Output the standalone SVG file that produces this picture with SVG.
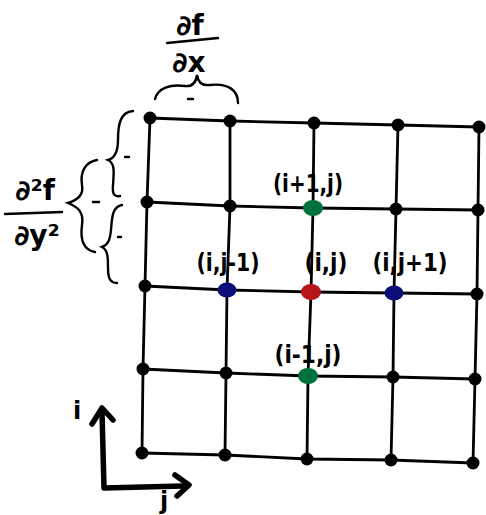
<svg xmlns="http://www.w3.org/2000/svg" width="486" height="515" viewBox="0 0 486 515">
<style>
.g{fill:none;stroke:#000;stroke-width:2.8;stroke-linecap:round;stroke-linejoin:round}
.br{fill:none;stroke:#000;stroke-width:2.4;stroke-linecap:round}
.ax{fill:none;stroke:#000;stroke-width:5.5;stroke-linecap:round;stroke-linejoin:round}
.n{fill:#000}
.t{font-family:"DejaVu Sans",sans-serif;font-weight:bold;font-size:24px;fill:#000}
.m{font-family:"DejaVu Sans",sans-serif;font-weight:bold;font-size:28px;fill:#000}
</style>
<rect width="486" height="515" fill="#fff"/>
<g id="connectors">
<polyline class="g" points="150,118 230,121 314,123 398,125 479,127"/>
<polyline class="g" points="147,202 230,206 313,208 396,209 478,210"/>
<polyline class="g" points="145,286 227,290 311,292 394,293 477,294"/>
<polyline class="g" points="143,369 226,373 308,376 393,377 475,379"/>
<polyline class="g" points="142,453 225,455 307,459 391,460 473,463"/>
<polyline class="g" points="150,118 147,202 145,286 143,369 142,453"/>
<polyline class="g" points="230,121 230,206 227,290 226,373 225,455"/>
<polyline class="g" points="314,123 313,208 311,292 308,376 307,459"/>
<polyline class="g" points="398,125 396,209 394,293 393,377 391,460"/>
<polyline class="g" points="479,127 478,210 477,294 475,379 473,463"/>
</g>
<g id="nodes">
<g id="n00"><circle class="n" cx="150" cy="118" r="6.5"/></g>
<g id="n01"><circle class="n" cx="230" cy="121" r="6.5"/></g>
<g id="n02"><circle class="n" cx="314" cy="123" r="6.5"/></g>
<g id="n03"><circle class="n" cx="398" cy="125" r="6.5"/></g>
<g id="n04"><circle class="n" cx="479" cy="127" r="6.5"/></g>
<g id="n10"><circle class="n" cx="147" cy="202" r="6.5"/></g>
<g id="n11"><circle class="n" cx="230" cy="206" r="6.5"/></g>
<g id="n12"><ellipse cx="313" cy="208" rx="10" ry="8" fill="#00703c"/><text class="t" x="308" y="192" text-anchor="middle" textLength="70" lengthAdjust="spacingAndGlyphs">(i+1,j)</text></g>
<g id="n13"><circle class="n" cx="396" cy="209" r="6.5"/></g>
<g id="n14"><circle class="n" cx="478" cy="210" r="6.5"/></g>
<g id="n20"><circle class="n" cx="145" cy="286" r="6.5"/></g>
<g id="n21"><ellipse cx="227" cy="290" rx="9.5" ry="7.5" fill="#0d0d7a"/><text class="t" x="228" y="271" text-anchor="middle" textLength="63" lengthAdjust="spacingAndGlyphs">(i,j-1)</text></g>
<g id="n22"><ellipse cx="311" cy="292" rx="10" ry="8" fill="#b5161b"/><text class="t" x="326" y="271" text-anchor="middle" textLength="43" lengthAdjust="spacingAndGlyphs">(i,j)</text></g>
<g id="n23"><ellipse cx="394" cy="293" rx="9.5" ry="7.5" fill="#0d0d7a"/><text class="t" x="410" y="271" text-anchor="middle" textLength="75" lengthAdjust="spacingAndGlyphs">(i,j+1)</text></g>
<g id="n24"><circle class="n" cx="477" cy="294" r="6.5"/></g>
<g id="n30"><circle class="n" cx="143" cy="369" r="6.5"/></g>
<g id="n31"><circle class="n" cx="226" cy="373" r="6.5"/></g>
<g id="n32"><ellipse cx="308" cy="376" rx="10" ry="8" fill="#00703c"/><text class="t" x="308" y="363" text-anchor="middle" textLength="67" lengthAdjust="spacingAndGlyphs">(i-1,j)</text></g>
<g id="n33"><circle class="n" cx="393" cy="377" r="6.5"/></g>
<g id="n34"><circle class="n" cx="475" cy="379" r="6.5"/></g>
<g id="n40"><circle class="n" cx="142" cy="453" r="6.5"/></g>
<g id="n41"><circle class="n" cx="225" cy="455" r="6.5"/></g>
<g id="n42"><circle class="n" cx="307" cy="459" r="6.5"/></g>
<g id="n43"><circle class="n" cx="391" cy="460" r="6.5"/></g>
<g id="n44"><circle class="n" cx="473" cy="463" r="6.5"/></g>
</g>
<g id="dfdx">
<text class="m" x="190" y="35" text-anchor="middle">∂f</text>
<path class="br" d="M167,43 L218,38" stroke-width="3"/>
<text class="m" x="189" y="72" text-anchor="middle">∂x</text>
<path class="br" d="M155,99 C158,88 170,84 185,86 C193,87 196,82 197,75 C198,82 202,86 210,85 C228,83 238,90 238,103"/>
<path class="br" d="M188,99 L193,99"/>
</g>
<g id="d2fdy2">
<text class="m" x="35" y="200" text-anchor="middle">∂²f</text>
<path class="br" d="M5,214 L62,212" stroke-width="3"/>
<text class="m" x="37" y="245" text-anchor="middle">∂y²</text>
<path class="br" d="M97,160 C85,162 80,172 82,185 C84,195 78,200 68,203 C78,207 84,212 82,225 C80,240 84,250 95,252"/>
<path class="br" d="M93,202 L99,202"/>
<path class="br" d="M133,111 C120,112 118,125 118,140 C118,152 115,158 108,160 C115,163 114,172 113,185 C112,195 115,197 120,196"/>
<path class="br" d="M125,157 L129,157"/>
<path class="br" d="M122,205 C112,207 112,218 111,230 C110,240 108,245 102,247 C108,250 108,258 108,268 C108,278 110,283 117,283"/>
<path class="br" d="M118,237 L121,237"/>
</g>
<g id="axes">
<path class="ax" d="M102,412 L104,488 L183,486"/>
<polyline class="ax" points="92,424 102,408 113,420"/>
<polyline class="ax" points="175,475 189,485 177,496"/>
<text class="t" x="77" y="419" text-anchor="middle">i</text>
<text class="t" x="164" y="509" text-anchor="middle">j</text>
</g>
</svg>
